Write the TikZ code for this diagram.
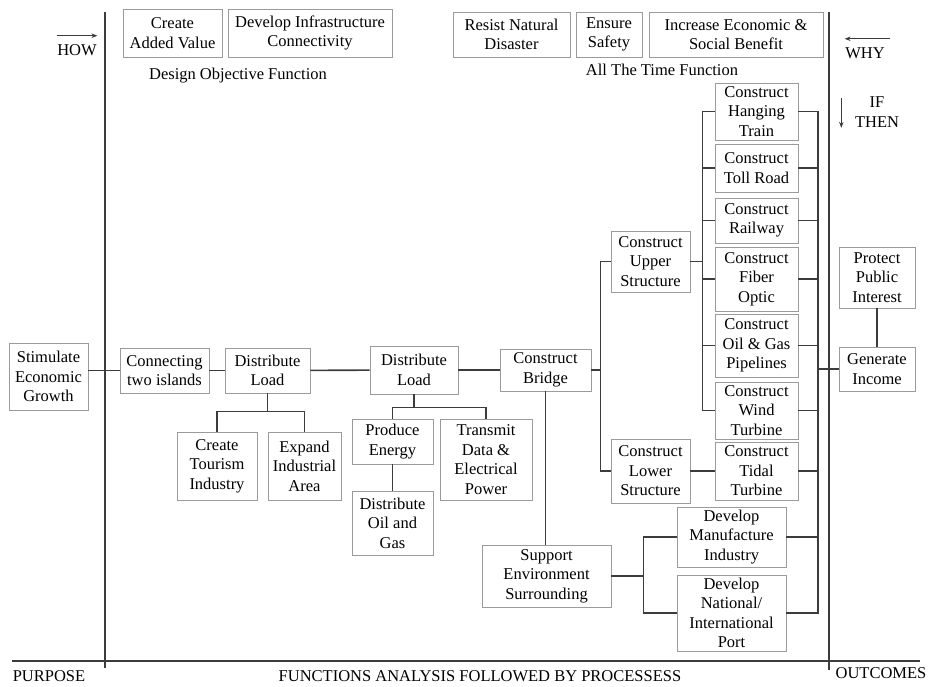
\documentclass[tikz,border=0pt]{standalone}
\usepackage{fontspec}
\setmainfont{Liberation Serif}
\usepackage{tikz}
\usetikzlibrary{arrows.meta,calc}
\definecolor{boxgray}{RGB}{155,155,155}
\definecolor{linegray}{RGB}{60,60,60}
\newcommand{\fnt}{\fontsize{16.5}{19.5}\selectfont}

\begin{document}
\begin{tikzpicture}[x=1pt,y=-1pt,
  box/.style 2 args={draw=boxgray,line width=0.8pt,align=center,inner sep=0.5pt,
    minimum width=#1,minimum height=#2,font=\fnt},
  lbl/.style={inner sep=0.5pt,font=\fnt},
  link/.style={draw=linegray,line width=1.6pt},
  axis/.style={draw=linegray,line width=1.5pt},
  arr/.style={-{Stealth[length=6pt,width=4.5pt]},line width=0.9pt,draw=linegray}]
  \useasboundingbox (0,0) rectangle (932,686);
  % axes
  \draw[axis] (105,12) -- (105,668);
  \draw[axis] (829,12) -- (829,670);
  \draw[axis] (12,661) -- (920,661);
  \node[lbl] (purpose) at (49,676) {PURPOSE};
  \node[lbl] (fap) at (480,676) {FUNCTIONS ANALYSIS FOLLOWED BY PROCESSESS};
  \node[lbl] (outcomes) at (881,673) {OUTCOMES};
  \node[lbl] (how) at (77,50) {HOW};
  \draw[arr] ([yshift=8pt]how.north west) -- ([yshift=8pt]how.north east);
  \node[lbl] (why) at (865,53) {WHY};
  \draw[arr] ([xshift=5pt,yshift=8pt]why.north east) -- ([yshift=8pt]why.north west);
  \node[lbl,align=center] (ifthen) at (877,112) {IF\\THEN};
  \draw[arr] ([xshift=-13pt,yshift=-2pt]ifthen.north west) -- ([xshift=-13pt]ifthen.south west);
  % top functions
  \node[box={99}{48}] (cav) at (172.5,33) {Create\\Added Value};
  \node[box={164}{48}] (dic) at (310,33) {Develop Infrastructure\\Connectivity};
  \node[lbl] (dof) at (238,76) {Design Objective Function};
  \node[box={117}{45}] (rnd) at (511.5,34.5) {Resist Natural\\Disaster};
  \node[box={66}{45}] (esf) at (609,34.5) {Ensure\\Safety};
  \node[box={174}{45}] (ies) at (736,34.5) {Increase Economic \&\\Social Benefit};
  \node[lbl] (atf) at (662,70) {All The Time Function};
  % main path
  \node[box={79}{67}] (seg) at (48.5,376.5) {Stimulate\\Economic\\Growth};
  \node[box={89}{45}] (cti) at (164.5,370.5) {Connecting\\two islands};
  \node[box={85}{45}] (dla) at (267.5,370.5) {Distribute\\Load};
  \node[box={80}{68}] (cte) at (217,466) {Create\\Tourism\\Industry};
  \node[box={73}{68}] (eia) at (304.5,466) {Expand\\Industrial\\Area};
  \node[box={88}{48}] (dlb) at (414,370) {Distribute\\Load};
  \node[box={91}{42}] (cbr) at (545.5,370) {Construct\\Bridge};
  \node[box={81}{45}] (pen) at (392.5,441.5) {Produce\\Energy};
  \node[box={92}{81}] (tde) at (486,459.5) {Transmit\\Data \&\\Electrical\\Power};
  \node[box={81}{64}] (dog) at (392.5,523) {Distribute\\Oil and\\Gas};
  \node[box={129}{62}] (ses) at (546.5,576) {Support\\Environment\\Surrounding};
  \node[box={79}{61}] (cus) at (650.5,261.5) {Construct\\Upper\\Structure};
  \node[box={79}{64}] (cls) at (650.5,471) {Construct\\Lower\\Structure};
  % stack
  \node[box={83}{57}] (cht) at (756.5,111.5) {Construct\\Hanging\\Train};
  \node[box={83}{48}] (ctr) at (756.5,168) {Construct\\Toll Road};
  \node[box={83}{45}] (crw) at (756.5,220.5) {Construct\\Railway};
  \node[box={83}{64}] (cfo) at (756.5,279) {Construct\\Fiber\\Optic};
  \node[box={83}{63}] (cog) at (756.5,345.5) {Construct\\Oil \& Gas\\Pipelines};
  \node[box={83}{57}] (cwt) at (756.5,410.5) {Construct\\Wind\\Turbine};
  \node[box={83}{58}] (ctt) at (756.5,471) {Construct\\Tidal\\Turbine};
  \node[box={109}{60}] (dmi) at (731.5,537) {Develop\\Manufacture\\Industry};
  \node[box={109}{76}] (dnp) at (731.5,613) {Develop\\National/\\International\\Port};
  % outcomes
  \node[box={76}{61}] (ppi) at (877,277.5) {Protect\\Public\\Interest};
  \node[box={76}{44}] (gin) at (877,369) {Generate\\Income};
  \coordinate (rbx) at (818,0);
  % links
  \draw[link] (seg.east |- cti.west) -- (cti.west);
  \draw[link] (cti) -- (dla);
  \draw[link] (dla) -- (dlb);
  \draw[link] (dlb) -- (cbr);
  \draw[link] (dla.south) -- ++(0,18) -| (cte.north);
  \draw[link] (dla.south) ++(0,18) -| (eia.north);
  \draw[link] (dlb.south) -- ++(0,13) -| (pen.north);
  \draw[link] (dlb.south) ++(0,13) -| (tde.north);
  \draw[link] (pen) -- (dog);
  \draw[link] (cbr.south) -- (cbr.south |- ses.north);
  \draw[link] (cbr.east) -- ++(10,0);
  \draw[link] (cus.west) -- ++(-10,0) |- (cls.west);
  \draw[link] (cht.west) -- ++(-12,0) |- (cwt.west);
  \foreach \n in {ctr,crw,cfo,cog}
    \draw[link] (\n.west) -- ++(-12,0);
  \draw[link] (cus.east) -- ++(13,0);
  \draw[link] (cls) -- (ctt);
  \draw[link] (cht.east) -- (cht.east -| rbx) |- (dnp.east);
  \foreach \n in {ctr,crw,cfo,cog,cwt,ctt,dmi}
    \draw[link] (\n.east) -- (\n.east -| rbx);
  \draw[link] (dmi.west) -- ++(-33,0) |- (dnp.west);
  \draw[link] (ses.east) -- ++(33,0);
  \draw[link] (gin.west) -- (gin.west -| rbx);
  \draw[link] (ppi) -- (gin);
\end{tikzpicture}
\end{document}
